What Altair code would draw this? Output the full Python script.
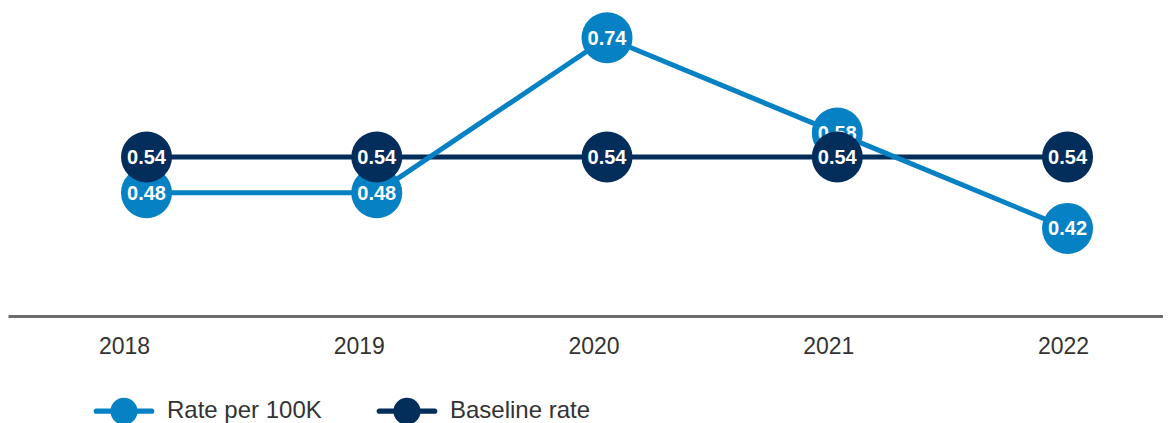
import altair as alt
import pandas as pd

years = ["2018", "2019", "2020", "2021", "2022"]
rate = [0.48, 0.48, 0.74, 0.58, 0.42]
baseline = [0.54, 0.54, 0.54, 0.54, 0.54]
series_names = ["Rate per 100K", "Baseline rate"]
series_colors = ["#0681c4", "#032d5b"]

rows = []
for y, v in zip(years, rate):
    rows.append({"year": y, "value": v, "series": series_names[0]})
for y, v in zip(years, baseline):
    rows.append({"year": y, "value": v, "series": series_names[1]})
df = pd.DataFrame(rows)

FONT = "Liberation Sans"
W, H = 1155, 308

ydom = [0.273, 0.79]
yenc = alt.Y("value:Q", scale=alt.Scale(domain=ydom, zero=False, nice=False), axis=None)

pt_scale = alt.Scale(type="point", padding=0.508, align=0.592, domain=years)
xpt = alt.X("year:N", scale=pt_scale, axis=None)

legend_path = ("M-1.98,-0.19 H1.98 A0.19,0.19 0 0,1 1.98,0.19 H-1.98 A0.19,0.19 0 0,1 -1.98,-0.19 Z "
               "M-0.97,0 A0.97,0.97 0 1,1 0.97,0 A0.97,0.97 0 1,1 -0.97,0 Z")
legend = alt.Legend(
    title=None, orient="none", direction="horizontal",
    legendX=87, legendY=389,
    symbolType=legend_path, symbolSize=784, symbolOffset=15,
    symbolStrokeWidth=0,
    labelOffset=29, columnPadding=54,
    labelFont=FONT, labelFontSize=24, labelColor="#333333",
)
cenc = alt.Color("series:N", scale=alt.Scale(domain=series_names, range=series_colors), legend=legend)

base = alt.Chart(df)

axis_layer = base.mark_point(opacity=0).encode(
    x=alt.X("year:N",
            scale=alt.Scale(type="point", padding=0.46, align=0.537, domain=years),
            axis=alt.Axis(title=None, labelAngle=0, labelFont=FONT, labelFontSize=23,
                          labelColor="#333333", labelPadding=19,
                          domainColor="#6b6b6b", domainWidth=3, ticks=False)),
)

def sel(name):
    return alt.datum.series == name

dark_line = base.transform_filter(sel(series_names[1])).mark_line(strokeWidth=5).encode(
    x=xpt, y=yenc, color=cenc)
light_line = base.transform_filter(sel(series_names[0])).mark_line(strokeWidth=5).encode(
    x=xpt, y=yenc, color=cenc)
light_pts = base.transform_filter(sel(series_names[0])).mark_point(
    filled=True, size=2600, opacity=1, strokeWidth=0).encode(x=xpt, y=yenc, color=cenc)
dark_pts = base.transform_filter(sel(series_names[1])).mark_point(
    filled=True, size=2600, opacity=1, strokeWidth=0).encode(x=xpt, y=yenc, color=cenc)

def txt(name):
    return base.transform_filter(sel(name)).mark_text(
        color="white", font=FONT, fontSize=20, fontWeight="bold",
        align="center", baseline="middle", dy=1).encode(
        x=xpt, y=yenc, text=alt.Text("value:Q", format=".2f"))

chart = alt.layer(
    axis_layer, dark_line, light_line, light_pts, txt(series_names[0]), dark_pts, txt(series_names[1])
).resolve_scale(x="independent").properties(
    width=W, height=H, padding=0
).configure_view(stroke=None)

chart.save("out.html", embed_options={"renderer": "svg", "actions": False})
